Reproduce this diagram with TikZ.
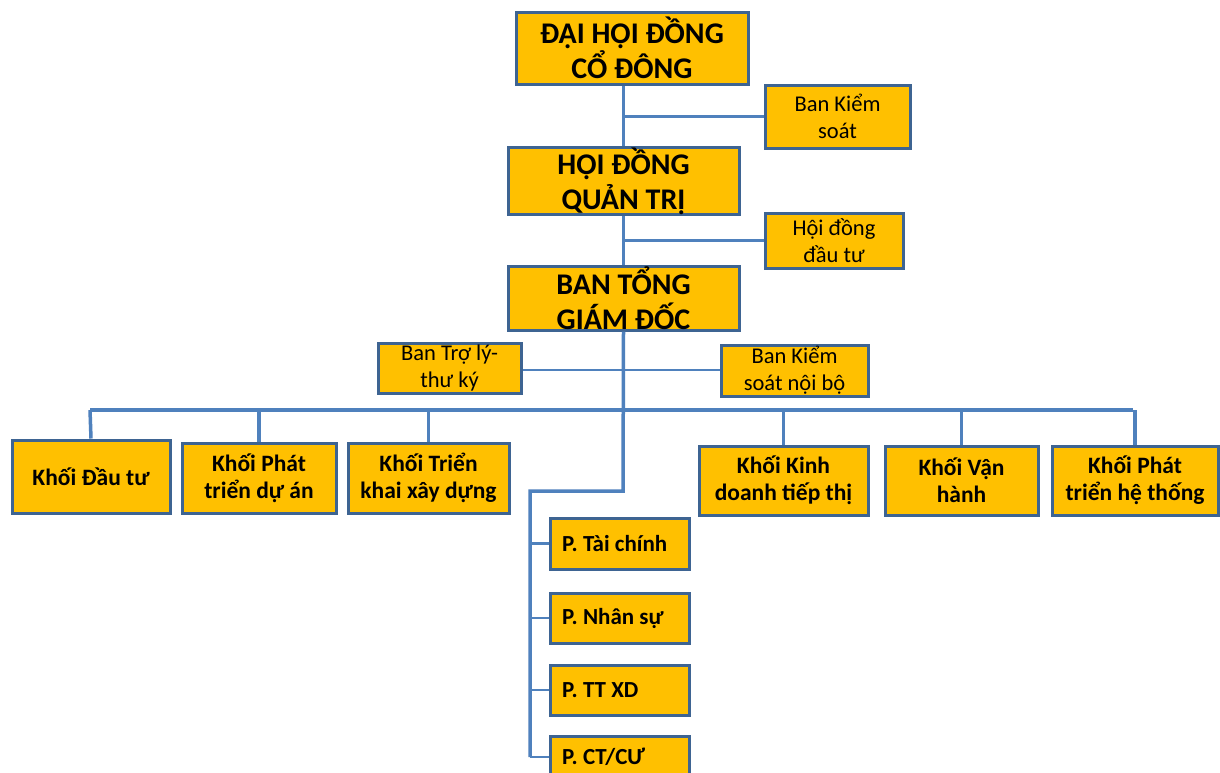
\documentclass[tikz,border=0pt]{standalone}
\usepackage{fontspec}
\setmainfont{Carlito}
\definecolor{boxfill}{HTML}{FFC000}
\definecolor{boxline}{HTML}{3E6492}
\definecolor{conn}{HTML}{4F81BD}
\tikzset{
  box/.style={draw=boxline, line width=3pt, fill=boxfill, inner sep=0pt, align=center, text=black},
  topbox/.style={box, font=\fontsize{30}{35}\selectfont\bfseries},
  sidebox/.style={box, font=\fontsize{22.5}{27}\selectfont},
  khoi/.style={box, font=\fontsize{23.5}{27}\selectfont\bfseries},
  pbox/.style={draw=boxline, line width=3pt, fill=boxfill, inner xsep=12pt, inner ysep=0pt, text width=115pt, align=flush left, font=\fontsize{23}{26}\selectfont\bfseries},
  mainline/.style={draw=conn, line width=3.5pt},
  thinline/.style={draw=conn, line width=2.5pt},
}
\begin{document}
\begin{tikzpicture}[x=1pt,y=-1pt]
\useasboundingbox (0,0) rectangle (1220,772);
\fill[white] (0,0) rectangle (1220,772);
\clip (0,0) rectangle (1220,772);

% coordinates for free ends
\coordinate (bend1) at (623,491);
\coordinate (bend2) at (530,491);
\coordinate (pend) at (530,757);
\coordinate (busL) at (90,410);
\coordinate (busR) at (1133,410);

% connectors behind boxes
\path[thinline] (623,116.5) -- (765,116.5);
\path[thinline] (623,240.5) -- (765,240.5);
\path[thinline] (521,370) -- (721,370);

% nodes
\node[topbox, minimum width=232pt, minimum height=72pt] (dh) at (632,48) {ĐẠI HỘI ĐỒNG\\CỔ ĐÔNG};
\node[sidebox, minimum width=145pt, minimum height=63pt] (bks) at (837.5,116.5) {Ban Kiểm\\soát};
\node[topbox, minimum width=231pt, minimum height=66pt] (hdqt) at (623.5,181) {HỘI ĐỒNG\\QUẢN TRỊ};
\node[sidebox, minimum width=138pt, minimum height=55pt] (hddt) at (834,240.5) {Hội đồng\\đầu tư};
\node[topbox, minimum width=231pt, minimum height=64pt] (btgd) at (623.5,298) {BAN TỔNG\\GIÁM ĐỐC};
\node[sidebox, minimum width=143pt, minimum height=50pt] (btl) at (449.5,368) {Ban Trợ lý-\\thư ký};
\node[sidebox, minimum width=147pt, minimum height=51pt] (ksnb) at (794.5,370.5) {Ban Kiểm\\soát nội bộ};

\node[khoi, minimum width=158pt, minimum height=73pt] (k1) at (91,476.5) {Khối Đầu tư};
\node[khoi, minimum width=154pt, minimum height=70pt] (k2) at (259,478) {Khối Phát\\triển dự án};
\node[khoi, minimum width=161pt, minimum height=70pt] (k3) at (428.5,478) {Khối Triển\\khai xây dựng};
\node[khoi, minimum width=169pt, minimum height=69pt] (k4) at (783.5,480.5) {Khối Kinh\\doanh tiếp thị};
\node[khoi, minimum width=153pt, minimum height=69pt] (k5) at (961.5,480.5) {Khối Vận\\hành};
\node[khoi, minimum width=166pt, minimum height=69pt] (k6) at (1135,480.5) {Khối Phát\\triển hệ thống};

\node[pbox, minimum height=51pt] (p1) at (619.5,543.5) {P. Tài chính};
\node[pbox, minimum height=50pt] (p2) at (619.5,618) {P. Nhân sự};
\node[pbox, minimum height=50pt] (p3) at (619.5,690) {P. TT XD};
\node[pbox, minimum height=42pt] (p4) at (619.5,757) {P. CT/CƯ};

% main connectors
\draw[mainline] (dh.south -| hdqt.north) -- (hdqt.north);
\draw[mainline] (hdqt.south) -- (btgd.north);
\draw[mainline] (btgd.south) -- (bend1) -- (bend2) -- (pend);
\draw[mainline] (busL) -- (busR);
\draw[mainline] (busL) -- (k1.north);
\draw[mainline] (k2.north |- busL) -- (k2.north);
\draw[mainline] (k3.north |- busL) -- (k3.north);
\draw[mainline] (k4.north |- busL) -- (k4.north);
\draw[mainline] (k5.north |- busL) -- (k5.north);
\draw[mainline] (k6.north |- busL) -- (k6.north);
\draw[thinline] (bend2 |- p1.west) -- (p1.west);
\draw[thinline] (bend2 |- p2.west) -- (p2.west);
\draw[thinline] (bend2 |- p3.west) -- (p3.west);
\draw[thinline] (pend) -- (p4.west);
\end{tikzpicture}
\end{document}
